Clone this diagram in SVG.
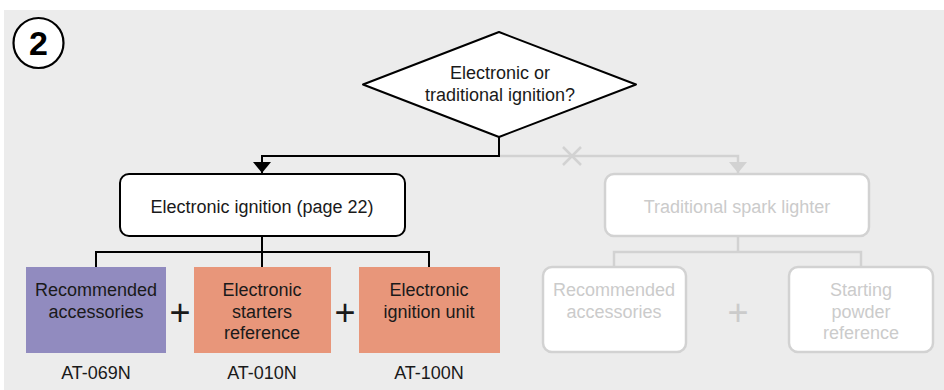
<svg xmlns="http://www.w3.org/2000/svg" width="944" height="390" viewBox="0 0 944 390">
<style>
text{font-family:"Liberation Sans",Arial,sans-serif;font-size:18px;text-anchor:middle;fill:#1a1a1a}
.dim text,text.dim{fill:#cbcbcb}
.on{fill:#fff;stroke:#000;stroke-width:2}
.off{fill:#fff;stroke:#d2d2d2;stroke-width:2.5}
.cb{fill:none;stroke:#000;stroke-width:2}
.cg{fill:none;stroke:#d2d2d2;stroke-width:2.5}
.plus{font-size:36px}
</style>
<defs>
<marker id="ab" viewBox="0 0 11 18" refX="11" refY="9" markerWidth="11" markerHeight="18" markerUnits="userSpaceOnUse" orient="auto"><path d="M0,0 L11,9 L0,18 Z" fill="#000"/></marker>
<marker id="ag" viewBox="0 0 11 18" refX="11" refY="9" markerWidth="11" markerHeight="18" markerUnits="userSpaceOnUse" orient="auto"><path d="M0,0 L11,9 L0,18 Z" fill="#d2d2d2"/></marker>
</defs>
<rect x="4" y="10" width="940" height="380" fill="#ececec"/>
<g id="badge">
<circle cx="38.5" cy="43" r="25" fill="#fff" stroke="#000" stroke-width="2.2"/>
<text x="38.5" y="55" style="font-size:34px;font-weight:bold;fill:#000">2</text>
</g>
<g id="connectors">
<path class="cg" d="M499,156 H738 V173" marker-end="url(#ag)"/>
<path class="cg" d="M563,147 L581,165 M581,147 L563,165"/>
<path class="cb" d="M499,137 V156 H262 V173" marker-end="url(#ab)"/>
<path class="cb" d="M262,236 V252 M96,267 V252 H429 V267 M262,252 V267"/>
<path class="cg" d="M738,236 V252 M614,267 V252 H861 V267"/>
</g>
<g id="decision">
<path class="on" stroke-linejoin="round" d="M499,32 L636,84.5 L499,137 L363,84.5 Z"/>
<text x="500" y="79">Electronic or</text>
<text x="500" y="101">traditional ignition?</text>
</g>
<g id="electronic">
<rect class="on" x="120" y="174" width="285" height="62" rx="9"/>
<text x="262" y="213">Electronic ignition (page 22)</text>
</g>
<g id="traditional">
<rect class="off" x="605" y="174" width="264" height="62" rx="9"/>
<text class="dim" x="737" y="213">Traditional spark lighter</text>
</g>
<g id="acc1">
<rect x="26" y="267" width="140" height="86" fill="#918bbf"/>
<text x="96" y="296">Recommended</text>
<text x="96" y="318">accessories</text>
<text x="96" y="379">AT-069N</text>
</g>
<g id="starters">
<rect x="194" y="267" width="137" height="86" fill="#e8967a"/>
<text x="262" y="296">Electronic</text>
<text x="262" y="318">starters</text>
<text x="262" y="339">reference</text>
<text x="262" y="379">AT-010N</text>
</g>
<g id="unit">
<rect x="359" y="267" width="141" height="86" fill="#e8967a"/>
<text x="429" y="296">Electronic</text>
<text x="429" y="318">ignition unit</text>
<text x="429" y="379">AT-100N</text>
</g>
<g id="plus1"><text class="plus" x="180" y="325">+</text></g>
<g id="plus2"><text class="plus" x="345" y="325">+</text></g>
<g id="acc2" class="dim">
<rect class="off" x="543" y="267" width="143" height="85" rx="9"/>
<text x="614" y="296">Recommended</text>
<text x="614" y="318">accessories</text>
</g>
<g id="plus3"><text class="plus dim" x="738" y="325">+</text></g>
<g id="powder" class="dim">
<rect class="off" x="789" y="267" width="144" height="85" rx="9"/>
<text x="861" y="296">Starting</text>
<text x="861" y="318">powder</text>
<text x="861" y="339">reference</text>
</g>
</svg>
